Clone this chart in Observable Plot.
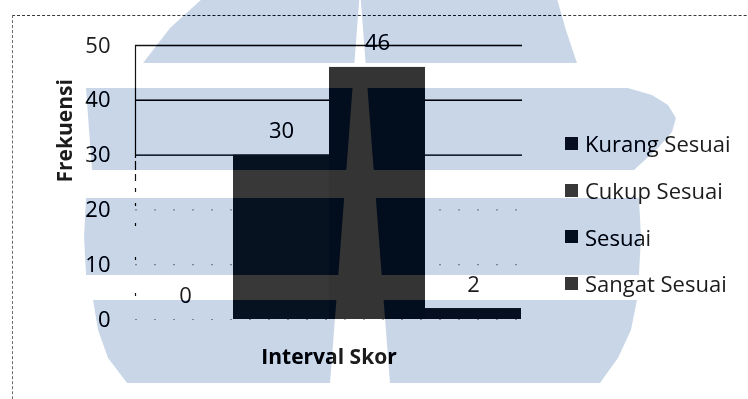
<!DOCTYPE html>
<html>
<head>
<meta charset="utf-8">
<script src="https://cdn.jsdelivr.net/npm/d3@7"></script>
<script src="https://cdn.jsdelivr.net/npm/@observablehq/plot@0.6"></script>
<style>
  html, body { margin: 0; padding: 0; background: #fff; }
  #wrap { position: relative; width: 748px; height: 399px; overflow: hidden; font-family: "Open Sans", sans-serif; }
  #wrap > * { position: absolute; left: 0; top: 0; }
  #border { left: 12px; top: 15px; width: 900px; height: 600px; border-top: 1.5px dashed #3a3a3a; border-left: 1px dashed #6a6a6a; box-sizing: border-box; }
  #legend { left: 565px; top: 120px; }
  #legend .lg-swatches { font-family: "Open Sans", sans-serif !important; font-size: 22px !important; color: #1c1c1c; margin: 0 !important; min-height: 0 !important; }
  #legend .lg-swatch { height: 46.7px; padding: 0 !important; margin: 0 !important; display: flex; align-items: center; }
  #legend .lg-swatch svg { margin-right: 7px !important; flex-shrink: 0; }
  #overlay { mix-blend-mode: color-burn; pointer-events: none; }
</style>
</head>
<body>
<div id="wrap"></div>
<script>
// Score categories and how many respondents fell into each
const categories = ["Kurang Sesuai", "Cukup Sesuai", "Sesuai", "Sangat Sesuai"];
const frequencies = [0, 30, 46, 2];
const yTicks = [0, 10, 20, 30, 40, 50];
const gridStrong = [30, 40, 50];
const gridFaint = [0, 10, 20];
const barColors = ["#363636", "#383838", "#343434", "#363636"];
const xTitle = "Interval Skor";
const yTitle = "Frekuensi";

const data = categories.map((category, i) => ({category, value: frequencies[i]}));

const W = 748, H = 399;
const wrap = document.getElementById("wrap");

// Faint emblem printed behind the figure: stacked rounded bands split by a tapering slit
const emblemBands = [
  [[214, -12], [554, -12], [566, 30], [577, 63], [143, 63], [170, 28]],
  [[86, 88], [628, 88], [652, 95], [668, 105], [676, 118], [672, 132], [658, 148], [645, 160], [634, 170], [92, 170], [89, 130]],
  [[86, 198], [639, 198], [641, 237], [639, 275], [86, 275], [84, 237]],
  [[93, 300], [637, 300], [631, 330], [618, 358], [600, 383], [127, 383], [108, 358], [98, 330]]
];
const emblemSlit = {x: 360, top: -10, bottom: 384, halfWidth: 30};

function emblemLayer(fill, id) {
  const svg = d3.create("svg").attr("width", W).attr("height", H).attr("id", id);
  const mask = svg.append("defs").append("mask").attr("id", id + "-mask");
  for (const band of emblemBands) {
    mask.append("polygon").attr("points", band.map(p => p.join(",")).join(" ")).attr("fill", "white");
  }
  const s = emblemSlit;
  mask.append("polygon")
    .attr("points", `${s.x},${s.top} ${s.x + s.halfWidth},${s.bottom} ${s.x - s.halfWidth},${s.bottom}`)
    .attr("fill", "black");
  svg.append("rect").attr("width", W).attr("height", H).attr("fill", fill).attr("mask", `url(#${id}-mask)`);
  return svg.node();
}

wrap.append(emblemLayer("#d3ddea", "backdrop"));

const chart = Plot.plot({
  width: W,
  height: H,
  marginLeft: 135,
  marginRight: 226,
  marginTop: 45,
  marginBottom: 80,
  style: {background: "transparent", fontFamily: "Open Sans, sans-serif", fontSize: "22px", color: "#1c1c1c"},
  x: {domain: categories, padding: 0, axis: null},
  y: {domain: [0, 50], ticks: yTicks, label: null, axis: null},
  color: {domain: categories, range: barColors},
  marks: [
    Plot.ruleY(gridFaint, {stroke: "#333", strokeWidth: 1.2, strokeDasharray: "2 17", strokeOpacity: 0.4}),
    Plot.ruleY(gridStrong, {stroke: "#141414", strokeWidth: 1.4}),
    Plot.frame({anchor: "left", stroke: "#141414", strokeWidth: 1.2, strokeDasharray: "112 4 8 5 6 8 3 12 2 18 2 32 2 34 2 30 2 30"}),
    Plot.barY(data, {x: "category", y: "value", fill: "category"}),
    Plot.text(data, {x: "category", y: "value", text: d => String(d.value), dy: -24, lineAnchor: "middle", fontSize: 22, fill: "#1c1c1c"}),
    Plot.axisY({ticks: yTicks, tickSize: 0, tickPadding: 25, fontSize: 22, label: null, fill: "#1c1c1c"}),
    Plot.text([yTitle], {frameAnchor: "left", dx: -70, rotate: -90, fontWeight: "bold", fontSize: 21, fill: "#1c1c1c"}),
    Plot.text([xTitle], {frameAnchor: "bottom", dy: 44, fontWeight: "bold", fontSize: 21, fill: "#1c1c1c"})
  ]
});
wrap.append(chart);

const legendBox = document.createElement("div");
legendBox.id = "legend";
legendBox.append(Plot.legend({
  color: {type: "ordinal", domain: categories, range: barColors},
  legend: "swatches",
  columns: 1,
  swatchSize: 13,
  className: "lg"
}));
wrap.append(legendBox);

const border = document.createElement("div");
border.id = "border";
wrap.append(border);

wrap.append(emblemLayer("#cdd6e5", "overlay"));
</script>
</body>
</html>
